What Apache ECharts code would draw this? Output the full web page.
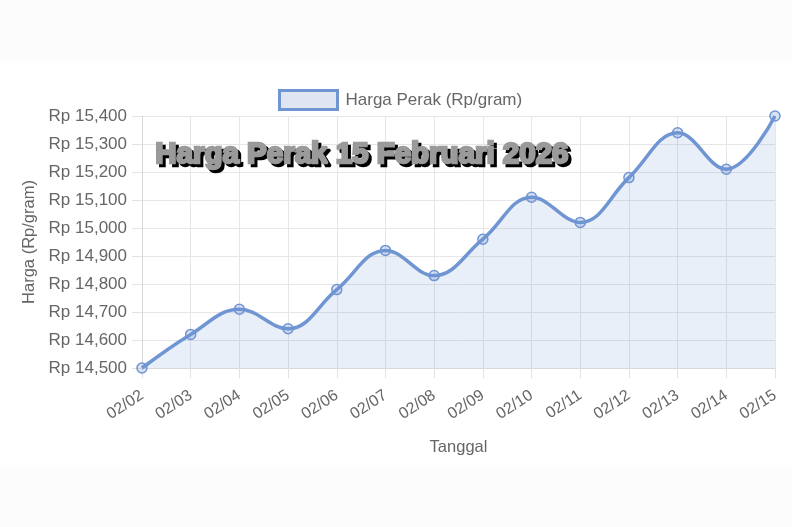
<!DOCTYPE html>
<html><head><meta charset="utf-8">
<script src="https://cdn.jsdelivr.net/npm/echarts@6/dist/echarts.min.js"></script>
<style>html,body{margin:0;padding:0;background:#fdfcfc;}#c{width:792px;height:527px;}</style>
</head><body><div id="c"></div>
<script>
const categories = ['02/02','02/03','02/04','02/05','02/06','02/07','02/08','02/09','02/10','02/11','02/12','02/13','02/14','02/15'];
const prices = [14500,14620,14710,14640,14780,14920,14830,14960,15110,15020,15180,15340,15210,15400];
const seriesName = 'Harga Perak (Rp/gram)';
const titleText = 'Harga Perak 15 Februari 2026';
const yName = 'Harga (Rp/gram)';
const xName = 'Tanggal';

const FF = '"Liberation Sans", Arial, sans-serif';
const chart = echarts.init(document.getElementById('c'), null, {renderer:'canvas'});
const lineColor = '#6f95d3';
const titleFont = 'bold 29.5px ' + FF;
chart.setOption({
  backgroundColor: '#fdfcfc',
  animation: false,
  graphic: [
    {type:'rect', z:-10, shape:{x:0,y:61,width:792,height:404}, style:{fill:'#ffffff'}, silent:true},
    {type:'text', z:99, left:157, top:142, style:{
      text: titleText, font: titleFont,
      fill:'#000', stroke:'#000', lineWidth:2.5
    }},
    {type:'text', z:100, left:154, top:139, style:{
      text: titleText, font: titleFont,
      fill:'#9a9a9a', stroke:'#9a9a9a', lineWidth:2.5
    }}
  ],
  legend: {
    top: 84, left: 273,
    itemWidth: 58, itemHeight: 19, itemGap: 10,
    icon: 'rect',
    itemStyle: {color:'#dfe6f2', borderColor: lineColor, borderWidth: 3},
    textStyle: {color:'#666', fontSize:17, fontFamily:FF, padding:[0,0,0,3]},
    data: [seriesName]
  },
  grid: {left:142, right:17, top:116, bottom:159},
  xAxis: {
    type:'category', data: categories, boundaryGap:false,
    name: xName, nameLocation:'middle', nameGap:71,
    nameTextStyle:{color:'#666', fontSize:16.5, fontFamily:FF},
    axisLine:{show:true, lineStyle:{color:'#d8d8d8', width:1}},
    axisTick:{show:true, length:10, lineStyle:{color:'#e2e2e2'}},
    splitLine:{show:true, lineStyle:{color:'#e6e6e6'}},
    axisLabel:{rotate:33, color:'#666', fontSize:16, margin:26, fontFamily:FF}
  },
  yAxis: {
    type:'value', min:14500, max:15400, interval:100,
    name: yName, nameLocation:'middle', nameGap:104, nameRotate:90,
    nameTextStyle:{color:'#666', fontSize:16.5, fontFamily:FF},
    axisLine:{show:true, lineStyle:{color:'#d8d8d8', width:1}},
    axisTick:{show:true, length:10, lineStyle:{color:'#e2e2e2'}},
    splitLine:{show:true, lineStyle:{color:'#e6e6e6'}},
    axisLabel:{color:'#666', fontSize:17, margin:15, fontFamily:FF,
      formatter: v => 'Rp ' + v.toLocaleString('en-US')}
  },
  series: [{
    name: seriesName, type:'line', data: prices, smooth:0.4,
    symbol:'circle', symbolSize:10,
    lineStyle:{color:lineColor, width:3.5},
    itemStyle:{color:'rgba(111,149,211,0.25)', borderColor:lineColor, borderWidth:1.5},
    areaStyle:{color:'rgba(111,149,211,0.22)'}
  }]
});
</script></body></html>
